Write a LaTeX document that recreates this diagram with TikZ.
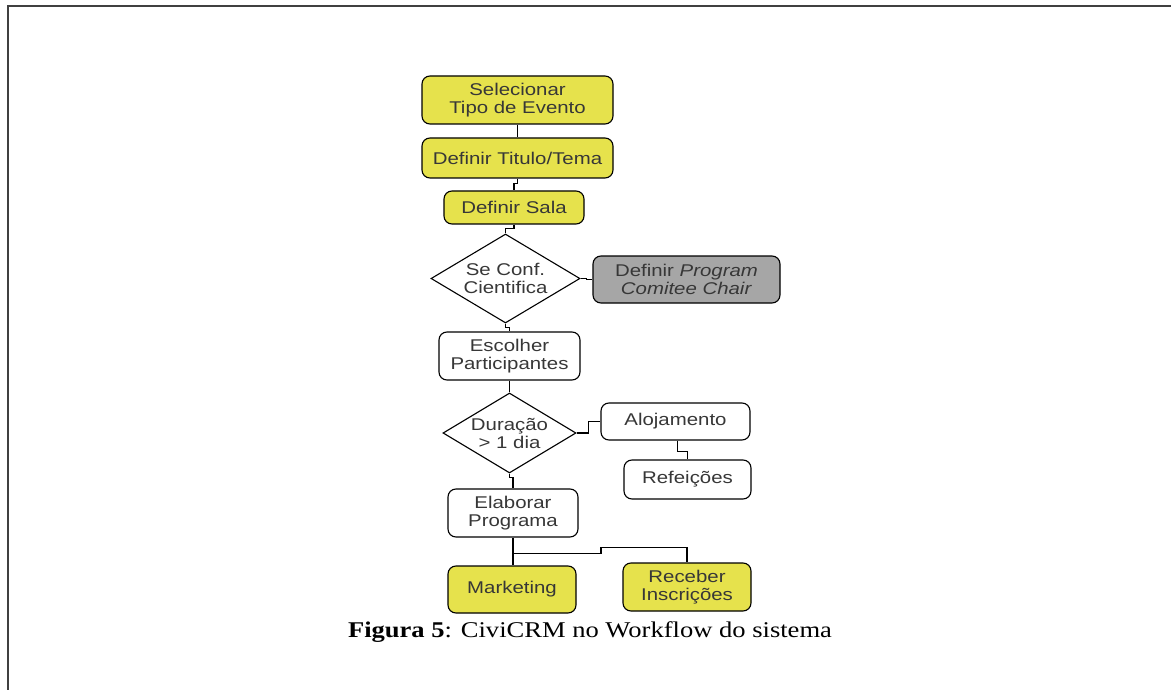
\documentclass[tikz,border=0pt]{standalone}
\usepackage{fontspec}
\usetikzlibrary{shapes.geometric}
\newfontfamily\boxfont[FakeStretch=1.2]{Liberation Sans}
\newfontfamily\capfont[FakeStretch=1.18]{Liberation Serif}
\definecolor{yel}{RGB}{230,226,76}
\definecolor{gry}{RGB}{166,166,166}
\definecolor{txt}{RGB}{55,55,55}
\tikzset{
  box/.style={draw=black, line width=1.1pt, rounded corners=8pt, inner sep=0pt,
    align=center, text=txt, font=\boxfont\fontsize{17}{18}\selectfont},
  ybox/.style={box, fill=yel},
  gbox/.style={box, fill=gry},
  wbox/.style={box, fill=white},
  dec/.style={diamond, draw=black, line width=1.1pt, inner sep=0pt,
    label={[align=center, text=txt, font=\boxfont\fontsize{17}{18}\selectfont, inner sep=0pt]center:#1}},
  link/.style={draw=black, line width=1.1pt}
}
\begin{document}
\begin{tikzpicture}[x=1pt,y=-1pt]
\useasboundingbox (0,0) rectangle (1171,690);
\fill[white] (0,0) rectangle (1171,690);
\draw[line width=1.3pt, draw=black!75] (8,690) -- (8,6) -- (1171,6);

\node[ybox, minimum width=191, minimum height=48] (b1) at (517.5,100) {Selecionar\\Tipo de Evento};
\node[ybox, minimum width=191, minimum height=40] (b2) at (517.5,158) {Definir Titulo/Tema};
\node[ybox, minimum width=140, minimum height=33] (b3) at (514,207.5) {Definir Sala};
\node[dec={Se Conf.\\Cientifica}, minimum width=149, minimum height=89] (d1) at (505.5,278.5) {};
\node[gbox, minimum width=187, minimum height=47] (b5) at (686.5,279.5) {Definir \textit{Program}\\\textit{Comitee Chair}};
\node[wbox, minimum width=141, minimum height=48] (b6) at (509.5,356) {Escolher\\Participantes};
\node[dec={Dura\c{c}\~ao\\> 1 dia}, minimum width=133, minimum height=80] (d2) at (509.5,433) {};
\node[wbox, minimum width=149, minimum height=37] (b8) at (675.5,421.5) {Alojamento};
\node[wbox, minimum width=127, minimum height=39] (b9) at (687.5,479.5) {Refei\c{c}\~oes};
\node[wbox, minimum width=130, minimum height=48] (b10) at (513,513) {Elaborar\\Programa};
\node[ybox, minimum width=128, minimum height=47] (b11) at (512,589.5) {Marketing};
\node[ybox, minimum width=128, minimum height=48] (b12) at (687,587) {Receber\\Inscri\c{c}\~oes};

\node[anchor=base, inner sep=0pt, font=\capfont\fontsize{22.5}{25}\selectfont] (cap) at (590,637)
  {\textbf{Figura 5}: CiviCRM no Workflow do sistema};

\draw[link] (b1.south) -- (b2.north);
\draw[link] (b2.south) -- ++(0,5) -| (b3.north);
\draw[link] (b3.south) -- ++(0,4) -| (d1.north);
\draw[link] (d1.east) -- ++(6,0) |- (b5.west);
\draw[link] (d1.south) -- ++(0,4) -| (b6.north);
\draw[link] (b6.south) -- (d2.north);
\draw[link] (d2.east) -- ++(12,0) |- (b8.west);
\draw[link] ([xshift=2pt]b8.south) -- ++(0,11) -| (b9.north);
\draw[link] (d2.south) -- ++(0,4) -| (b10.north);
\draw[link] (b10.south) -- (b10.south |- b11.north);
\coordinate (split) at ([yshift=-16pt]b10.south);
\draw[link] (split) -- ++(88,0) -- ++(0,-6) -| (b12.north);
\end{tikzpicture}
\end{document}
